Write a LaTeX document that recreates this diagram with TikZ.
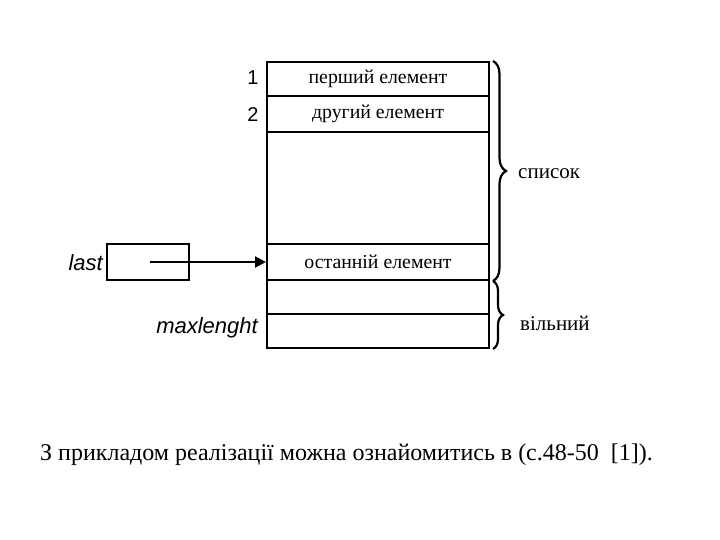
\documentclass[tikz,border=0pt]{standalone}
\usepackage{fontspec}
\setmainfont{Liberation Serif}
\newfontfamily\arialf{Liberation Sans}
\usetikzlibrary{decorations.pathreplacing,arrows.meta}
\begin{document}
\begin{tikzpicture}[x=1pt,y=-1pt,
  cellbox/.style={draw,line width=2pt,minimum width=222pt,inner sep=0pt,font=\fontsize{19.8}{21}\selectfont,anchor=north west},
  numlab/.style={font=\arialf\fontsize{20}{22}\selectfont,inner sep=0pt},
  varlab/.style={font=\arialf\itshape\fontsize{22}{24}\selectfont,inner sep=0pt},
  bracestyle/.style={decorate,line width=2.2pt},
  sidelab/.style={font=\fontsize{21}{23}\selectfont,inner sep=0pt,anchor=west}]
\useasboundingbox (0,0) rectangle (720,540);
\node[cellbox,minimum height=34pt] (c1) at (266,61) {перший елемент};
\node[cellbox,minimum height=36pt] (c2) at (266,95) {другий елемент};
\node[cellbox,minimum height=112pt] (c3) at (266,131) {};
\node[cellbox,minimum height=36pt] (c4) at (266,243) {останній елемент};
\node[cellbox,minimum height=34pt] (c5) at (266,279) {};
\node[cellbox,minimum height=34pt] (c6) at (266,313) {};
\node[numlab] (n1) at (253,78) {1};
\node[numlab] (n2) at (253,115) {2};
\node[draw,line width=2pt,minimum width=82pt,minimum height=36pt,inner sep=0pt] (lastbox) at (148,262) {};
\node[varlab,anchor=east] (lastlab) at (103,263) {last};
\node[varlab,anchor=east] (maxlab) at (258,328) {maxlenght};
\coordinate (ls) at (150,262);
\draw[line width=2pt,-{Triangle[length=11pt,width=11pt]}] (ls) -- (c4.west);
\draw[bracestyle,decoration={brace,amplitude=13pt}] (c1.north east) ++(3,0) coordinate (b1) -- (c4.south east -| b1) coordinate (b2);
\draw[bracestyle,decoration={brace,amplitude=10pt}] (c5.north east) ++(3,2) coordinate (b3) -- (c6.south east -| b3) coordinate (b4);
\node[sidelab] (spys) at (518,174) {список};
\node[sidelab] (vil) at (520,323) {вільний};
\node[font=\fontsize{24}{26}\selectfont,inner sep=0pt,anchor=west] (txt) at (40,455) {З прикладом реалізації можна ознайомитись в (с.48-50~ [1]).};
\end{tikzpicture}
\end{document}
